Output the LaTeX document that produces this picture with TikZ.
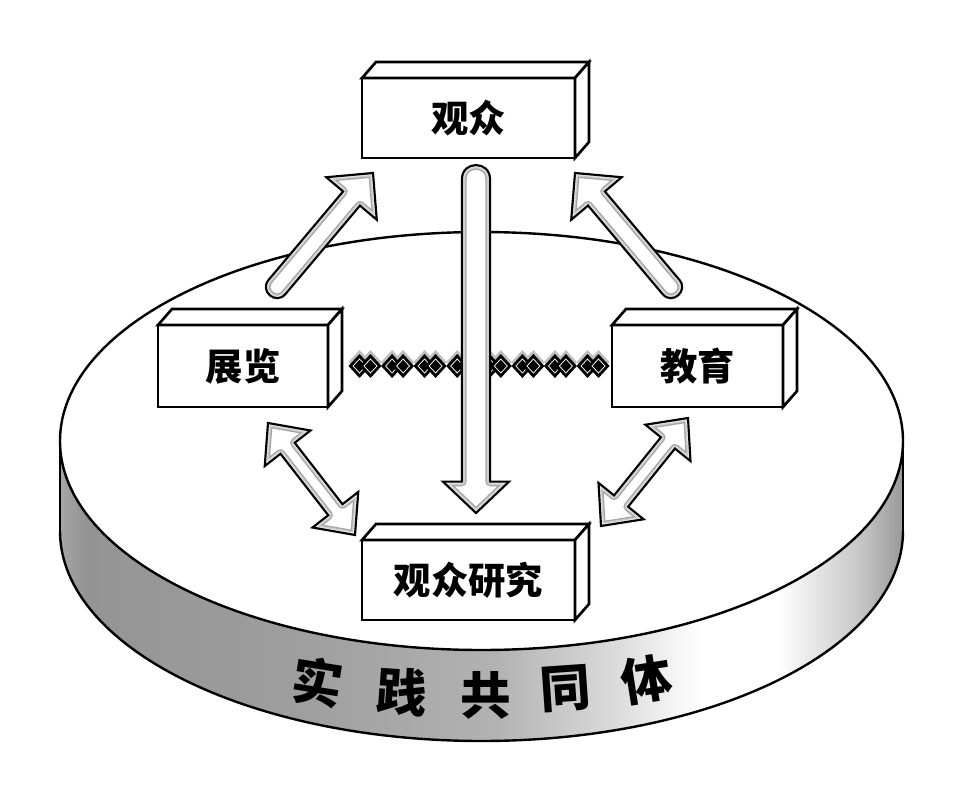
\documentclass[tikz,border=0pt]{standalone}
\usepackage{fontspec}
\newfontfamily\cjk{Noto Sans CJK SC}
\usetikzlibrary{calc}
\pgfdeclarehorizontalshading{diskside}{100bp}{color(0bp)=(black!35); color(25bp)=(black!35); color(26.5bp)=(black!42); color(39bp)=(black!38); color(51bp)=(black!30); color(58bp)=(black!14); color(63bp)=(white); color(67.6bp)=(white); color(72.4bp)=(black!22); color(75bp)=(black!40); color(100bp)=(black!40)}
\tikzset{
  outl/.style={line width=1.8pt},
  boxface/.style={draw, line width=2pt, fill=white, line join=miter},
  box/.style={boxface, inner sep=0pt, outer sep=0pt, font=\cjk\bfseries\fontsize{28}{30}\selectfont},
  disktext/.style={font=\cjk\bfseries\fontsize{38}{40}\selectfont}
}
\newcommand\fatdraw{%
  \fill[white] \arrpath;
  \begin{scope}
    \clip \arrpath;
    \draw[line width=7pt,black!35,line join=round] \arrpath;
    \draw[line width=5pt,black!20,line join=round] \arrpath;
    \draw[line width=3pt,black!9,line join=round] \arrpath;
  \end{scope}
  \draw[line width=1.6pt,line join=miter] \arrpath;}
% #1 tail (rounded), #2 tip, #3 shaft half width, #4 head half width, #5 head length
\newcommand\fatsingle[5]{%
  \coordinate (h) at ($(#2)!#5!(#1)$);
  \coordinate (p1) at ($(#1)!#3!90:(#2)$);
  \coordinate (p2) at ($(h)!#3!-90:(#1)$);
  \coordinate (p3) at ($(h)!#4!-90:(#1)$);
  \coordinate (p4) at ($(h)!#4!90:(#1)$);
  \coordinate (p5) at ($(h)!#3!90:(#1)$);
  \coordinate (p6) at ($(#1)!#3!-90:(#2)$);
  \def\arrpath{(p1) -- (p2) -- (p3) -- (#2) -- (p4) -- (p5) -- (p6) to[bend left=90,looseness=1.7] (p1) -- cycle}%
  \fatdraw}
\newcommand\fatdouble[5]{%
  \coordinate (h1) at ($(#1)!#5!(#2)$);
  \coordinate (h2) at ($(#2)!#5!(#1)$);
  \coordinate (q1) at ($(h1)!#4!90:(#2)$);
  \coordinate (q2) at ($(h1)!#3!90:(#2)$);
  \coordinate (q3) at ($(h2)!#3!-90:(#1)$);
  \coordinate (q4) at ($(h2)!#4!-90:(#1)$);
  \coordinate (q5) at ($(h2)!#4!90:(#1)$);
  \coordinate (q6) at ($(h2)!#3!90:(#1)$);
  \coordinate (q7) at ($(h1)!#3!-90:(#2)$);
  \coordinate (q8) at ($(h1)!#4!-90:(#2)$);
  \def\arrpath{(#1) -- (q1) -- (q2) -- (q3) -- (q4) -- (#2) -- (q5) -- (q6) -- (q7) -- (q8) -- cycle}%
  \fatdraw}
\newcommand\boxfaces[1]{%
  \draw[boxface] (#1.north west) -- ++(14,-16) -- ($(#1.north east)+(14,-16)$) -- (#1.north east) -- cycle;
  \draw[boxface] (#1.north east) -- ($(#1.north east)+(14,-16)$) -- ($(#1.south east)+(14,-16)$) -- (#1.south east) -- cycle;}
\begin{document}
\begin{tikzpicture}[x=0.75pt,y=-0.75pt]
\useasboundingbox (0,0) rectangle (964,795);
\fill[white] (0,0) rectangle (964,795);
% disk side
\shade[shading=diskside] (60,441) rectangle (903,531);
\shade[shading=diskside] (481.5,531) ellipse[x radius=421.5, y radius=210];
\begin{scope}
  \clip (0,531) rectangle (964,795);
  \draw[outl] (481.5,531) ellipse[x radius=421.5, y radius=210];
\end{scope}
\draw[outl] (60,441) -- (60,531);
\draw[outl] (903,441) -- (903,531);
% disk top
\draw[outl, fill=white] (481.5,441) ellipse[x radius=421.5, y radius=209];
% text on side
\node[disktext, rotate=-9] (t1) at (318,682) {实};
\node[disktext, rotate=-4] (t2) at (402,692) {践};
\node[disktext] (t3) at (486,695) {共};
\node[disktext, rotate=4] (t4) at (566,689) {同};
\node[disktext, rotate=9] (t5) at (647,680) {体};
% diamond chain
\foreach \c in {365,397.6,430.1,462.7,495.3,527.9,560.4,593}{
  \foreach \d in {-5.5,5.5}{
    \fill[black!25] ({\c+\d-11},{362}) -- ({\c+\d},{350}) -- ({\c+\d+11},{362}) -- ({\c+\d},{374}) -- cycle;
  }
  \foreach \d in {-5.5,5.5}{
    \fill[black] ({\c+\d-11},{366}) -- ({\c+\d},{354}) -- ({\c+\d+11},{366}) -- ({\c+\d},{378}) -- cycle;
    \draw[white, line width=0.55pt] ({\c+\d-6.5},{366}) -- ({\c+\d},{359}) -- ({\c+\d+6.5},{366}) -- ({\c+\d},{373}) -- cycle;
  }
}
% boxes
\node[box, minimum width=159.75pt, minimum height=60pt] (aud) at (468.5,118) {观众};
\node[box, minimum width=127.5pt, minimum height=61.5pt] (exh) at (243,366) {展览};
\node[box, minimum width=128.25pt, minimum height=61.5pt] (edu) at (697.5,366) {教育};
\node[box, minimum width=159.75pt, minimum height=60pt] (res) at (468.5,580) {观众研究};
\boxfaces{aud}
\boxfaces{exh}
\boxfaces{edu}
\boxfaces{res}
% arrow end points
\coordinate (exhOut) at (277,287);
\coordinate (audInL) at (373,173);
\coordinate (eduOut) at (671,287);
\coordinate (audInR) at (575,173);
\coordinate (audOut) at (476,179);
\coordinate (resIn) at (476,513);
\coordinate (exhRes) at (268,423);
\coordinate (resExh) at (355,535);
\coordinate (eduRes) at (688,418);
\coordinate (resEdu) at (601,526);
% arrows
\fatsingle{exhOut}{audInL}{8.25pt}{24.75pt}{25pt}
\fatsingle{eduOut}{audInR}{8.25pt}{24.75pt}{25pt}
\fatsingle{audOut}{resIn}{10.5pt}{24.75pt}{23.5pt}
\fatdouble{exhRes}{resExh}{6.75pt}{21.75pt}{24pt}
\fatdouble{eduRes}{resEdu}{6.75pt}{21.75pt}{24pt}
\end{tikzpicture}
\end{document}
